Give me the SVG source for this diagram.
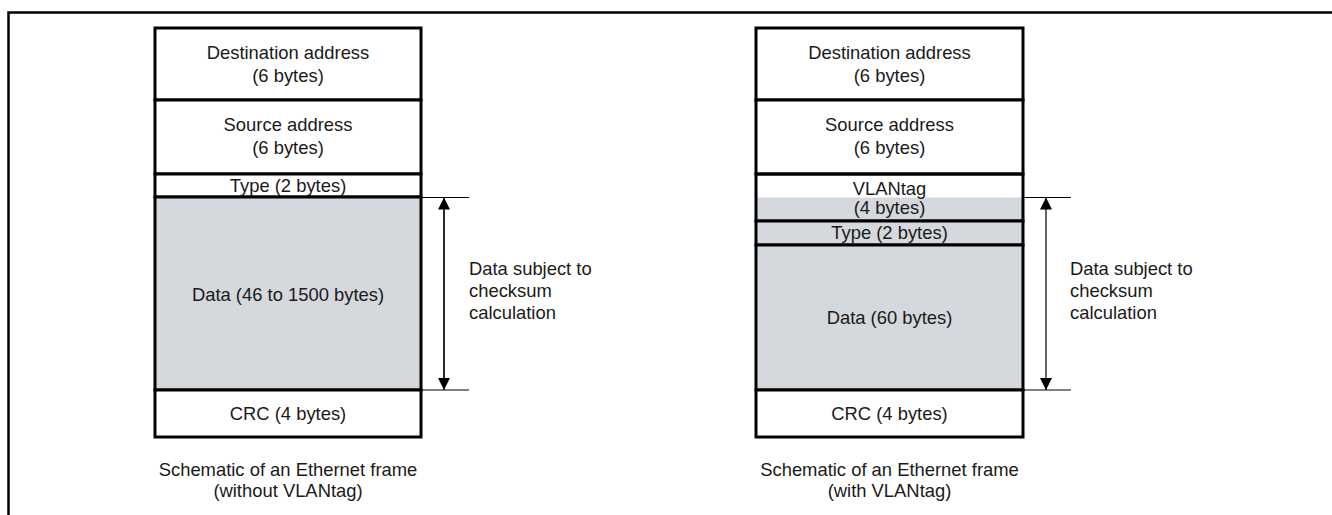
<svg xmlns="http://www.w3.org/2000/svg" width="1332" height="515" viewBox="0 0 1332 515">
<defs>
<style>
text{font-family:"Liberation Sans",Arial,sans-serif;font-size:18.4px;fill:#1a1a1a}
.c{text-anchor:middle}
.box{fill:#fff;stroke:#000;stroke-width:3}
.g{fill:#d5d8dc;stroke:#000;stroke-width:3}
.thin{stroke:#000;stroke-width:1.2;fill:none}
</style>
<marker id="ah" viewBox="0 0 12 13" refX="12" refY="6" markerWidth="12" markerHeight="13" markerUnits="userSpaceOnUse" orient="auto">
<path d="M0,0 L12,6 L0,12 Z" fill="#000"/>
</marker>
</defs>
<rect width="1332" height="515" fill="#fff"/>
<path d="M8.5,515 V12.5 H1332" fill="none" stroke="#000" stroke-width="2.5"/>

<g id="frame-left">
<rect class="box" x="155" y="28" width="266" height="72"/>
<text class="c" x="288" y="59">Destination address</text>
<text class="c" x="288" y="82">(6 bytes)</text>
<rect class="box" x="155" y="100" width="266" height="74"/>
<text class="c" x="288" y="131">Source address</text>
<text class="c" x="288" y="154">(6 bytes)</text>
<rect class="box" x="155" y="174" width="266" height="23"/>
<text class="c" x="288" y="192">Type (2 bytes)</text>
<rect class="g" x="155" y="197" width="266" height="193"/>
<text class="c" x="288" y="301">Data (46 to 1500 bytes)</text>
<rect class="box" x="155" y="390" width="266" height="47"/>
<text class="c" x="288" y="420">CRC (4 bytes)</text>
<text class="c" x="288" y="476">Schematic of an Ethernet frame</text>
<text class="c" x="288" y="497">(without VLANtag)</text>
</g>

<g id="frame-right">
<rect class="box" x="756" y="28" width="267" height="72"/>
<text class="c" x="889.5" y="59">Destination address</text>
<text class="c" x="889.5" y="82">(6 bytes)</text>
<rect class="box" x="756" y="100" width="267" height="74"/>
<text class="c" x="889.5" y="131">Source address</text>
<text class="c" x="889.5" y="154">(6 bytes)</text>
<rect x="756" y="197.5" width="267" height="23" fill="#d5d8dc"/>
<rect x="756" y="174" width="267" height="47" fill="none" stroke="#000" stroke-width="3"/>
<text class="c" x="889.5" y="195">VLANtag</text>
<text class="c" x="889.5" y="214">(4 bytes)</text>
<rect class="g" x="756" y="221" width="267" height="24"/>
<text class="c" x="889.5" y="239">Type (2 bytes)</text>
<rect class="g" x="756" y="245" width="267" height="145"/>
<text class="c" x="889.5" y="324">Data (60 bytes)</text>
<rect class="box" x="756" y="390" width="267" height="47"/>
<text class="c" x="889.5" y="420">CRC (4 bytes)</text>
<text class="c" x="889.5" y="476">Schematic of an Ethernet frame</text>
<text class="c" x="889.5" y="497">(with VLANtag)</text>
</g>

<g id="connectors">
<path class="thin" d="M421,197.5 H469 M421,390 H469"/>
<path class="thin" d="M444,210 V378" />
<path class="thin" d="M444,300 V197.5" marker-end="url(#ah)"/>
<path class="thin" d="M444,300 V390" marker-end="url(#ah)"/>
<path class="thin" d="M1023,197.5 H1071 M1023,390 H1071"/>
<path class="thin" d="M1046,300 V197.5" marker-end="url(#ah)"/>
<path class="thin" d="M1046,300 V390" marker-end="url(#ah)"/>
</g>

<g id="label-left">
<text x="469" y="275">Data subject to</text>
<text x="469" y="297">checksum</text>
<text x="469" y="319">calculation</text>
</g>
<g id="label-right">
<text x="1070" y="275">Data subject to</text>
<text x="1070" y="297">checksum</text>
<text x="1070" y="319">calculation</text>
</g>
</svg>
